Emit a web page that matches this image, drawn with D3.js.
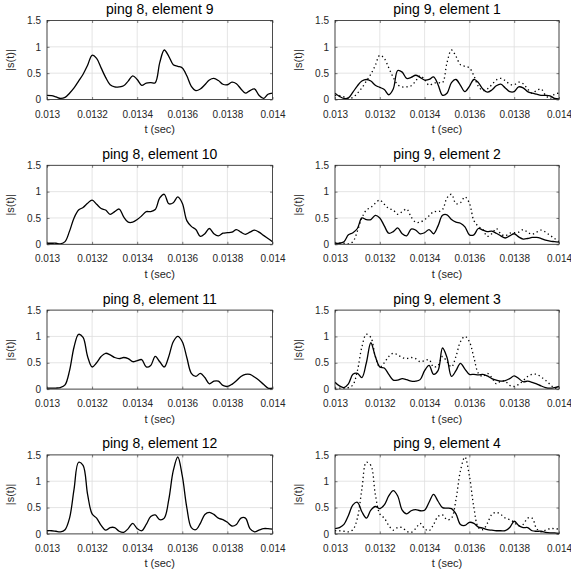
<!DOCTYPE html>
<html>
<head>
<meta charset="utf-8">
<script src="https://cdn.jsdelivr.net/npm/d3@7"></script>
<style>
  html, body { margin: 0; padding: 0; background: #fff; }
  svg { display: block; font-family: "Liberation Sans", Arial, Helvetica, sans-serif; }
</style>
</head>
<body>
<div id="chart"></div>
<script>
// sample times (s)
const tSec = [
  0.01300, 0.01302, 0.01304, 0.01306, 0.01308, 0.01310, 0.01312, 0.01314, 0.01316, 0.01318,
  0.01320, 0.01322, 0.01324, 0.01326, 0.01328, 0.01330, 0.01332, 0.01334, 0.01336, 0.01338,
  0.01340, 0.01342, 0.01344, 0.01346, 0.01348, 0.01350, 0.01352, 0.01354, 0.01356, 0.01358,
  0.01360, 0.01362, 0.01364, 0.01366, 0.01368, 0.01370, 0.01372, 0.01374, 0.01376, 0.01378,
  0.01380, 0.01382, 0.01384, 0.01386, 0.01388, 0.01390, 0.01392, 0.01394, 0.01396, 0.01398,
  0.01400
];

const xTicks = [0.013, 0.0132, 0.0134, 0.0136, 0.0138, 0.014];
const xTickLabels = ["0.013", "0.0132", "0.0134", "0.0136", "0.0138", "0.014"];
const yTicks = [0, 0.5, 1, 1.5];
const yTickLabels = ["0", "0.5", "1", "1.5"];

const ping8Titles = ["ping 8, element 9", "ping 8, element 10", "ping 8, element 11", "ping 8, element 12"];
const ping9Titles = ["ping 9, element 1", "ping 9, element 2", "ping 9, element 3", "ping 9, element 4"];

// |s(t)|
const ping8Element9 = [
  0.08, 0.075, 0.05, 0.02, 0.04, 0.12, 0.22, 0.35, 0.48, 0.65,
  0.84, 0.78, 0.60, 0.42, 0.28, 0.24, 0.24, 0.26, 0.35, 0.45,
  0.38, 0.27, 0.31, 0.32, 0.32, 0.70, 0.94, 0.82, 0.66, 0.63,
  0.60, 0.45, 0.25, 0.17, 0.20, 0.28, 0.37, 0.40, 0.36, 0.29,
  0.28, 0.33, 0.30, 0.20, 0.12, 0.17, 0.20, 0.08, 0.02, 0.10,
  0.12
];
const ping8Element10 = [
  0.02, 0.02, 0.02, 0.01, 0.05, 0.25, 0.50, 0.65, 0.70, 0.78,
  0.84, 0.76, 0.68, 0.65, 0.57, 0.62, 0.67, 0.52, 0.42, 0.42,
  0.47, 0.54, 0.62, 0.62, 0.66, 0.88, 0.95, 0.77, 0.79, 0.90,
  0.78, 0.45, 0.34, 0.28, 0.15, 0.20, 0.30, 0.20, 0.16, 0.21,
  0.22, 0.23, 0.28, 0.23, 0.19, 0.23, 0.27, 0.23, 0.17, 0.11,
  0.05
];
const ping8Element11 = [
  0.02, 0.02, 0.02, 0.03, 0.08, 0.35, 0.80, 1.04, 0.98, 0.62,
  0.42, 0.50, 0.62, 0.68, 0.65, 0.60, 0.58, 0.60, 0.58, 0.52,
  0.54, 0.56, 0.42, 0.45, 0.62, 0.52, 0.42, 0.62, 0.90, 1.00,
  0.90, 0.60, 0.30, 0.24, 0.30, 0.22, 0.10, 0.15, 0.15, 0.07,
  0.05, 0.09, 0.16, 0.24, 0.28, 0.28, 0.23, 0.17, 0.09, 0.02,
  0.02
];
const ping8Element12 = [
  0.06, 0.06, 0.05, 0.04, 0.08, 0.30, 0.85, 1.36, 1.30, 0.75,
  0.38, 0.30, 0.16, 0.07, 0.12, 0.12, 0.05, 0.03, 0.10, 0.20,
  0.10, 0.06, 0.18, 0.33, 0.36, 0.27, 0.30, 0.65, 1.20, 1.46,
  1.10, 0.50, 0.12, 0.08, 0.20, 0.37, 0.41, 0.37, 0.30, 0.27,
  0.22, 0.15, 0.18, 0.30, 0.30, 0.10, 0.04, 0.07, 0.10, 0.10,
  0.09
];

// |s(t)| (solid curves)
const ping9Element1 = [
  0.12, 0.06, 0.02, 0.03, 0.14, 0.26, 0.35, 0.38, 0.35, 0.27,
  0.23, 0.19, 0.09, 0.20, 0.55, 0.52, 0.40, 0.42, 0.46, 0.42,
  0.37, 0.38, 0.43, 0.28, 0.08, 0.12, 0.32, 0.38, 0.27, 0.15,
  0.25, 0.38, 0.32, 0.20, 0.14, 0.18, 0.26, 0.29, 0.22, 0.15,
  0.15, 0.24, 0.22, 0.15, 0.12, 0.10, 0.08, 0.08, 0.07, 0.02,
  0.01
];
const ping9Element2 = [
  0.02, 0.02, 0.05, 0.18, 0.22, 0.30, 0.50, 0.47, 0.47, 0.55,
  0.50, 0.35, 0.21, 0.24, 0.31, 0.20, 0.16, 0.29, 0.27, 0.20,
  0.22, 0.28, 0.20, 0.35, 0.55, 0.56, 0.47, 0.42, 0.40, 0.33,
  0.18, 0.18, 0.30, 0.27, 0.24, 0.25, 0.21, 0.16, 0.12, 0.16,
  0.20, 0.14, 0.10, 0.11, 0.13, 0.13, 0.11, 0.08, 0.06, 0.05,
  0.04
];
const ping9Element3 = [
  0.13, 0.06, 0.03, 0.10, 0.28, 0.30, 0.22, 0.50, 0.88, 0.62,
  0.42, 0.40, 0.28, 0.17, 0.17, 0.20, 0.18, 0.15, 0.15, 0.18,
  0.35, 0.45, 0.28, 0.35, 0.78, 0.60, 0.24, 0.35, 0.49, 0.38,
  0.28, 0.28, 0.27, 0.28, 0.25, 0.20, 0.17, 0.15, 0.16, 0.20,
  0.25, 0.20, 0.14, 0.15, 0.13, 0.10, 0.06, 0.03, 0.02, 0.03,
  0.05
];
const ping9Element4 = [
  0.10, 0.12, 0.18, 0.35, 0.55, 0.60, 0.42, 0.30, 0.45, 0.52,
  0.48, 0.55, 0.72, 0.82, 0.72, 0.45, 0.38, 0.44, 0.46, 0.44,
  0.45, 0.60, 0.75, 0.62, 0.50, 0.49, 0.48, 0.38, 0.18, 0.16,
  0.22, 0.20, 0.13, 0.11, 0.08, 0.07, 0.06, 0.06, 0.06, 0.12,
  0.24, 0.16, 0.12, 0.12, 0.06, 0.05, 0.05, 0.03, 0.02, 0.02,
  0.01
];

const ping8Series = [ping8Element9, ping8Element10, ping8Element11, ping8Element12];
const ping9Series = [ping9Element1, ping9Element2, ping9Element3, ping9Element4];

const width = 571;
const height = 576;
const columns = [
  { left: 47, right: 272.5 },
  { left: 335, right: 559 },
];
const rowTop = (r) => 20.5 + 144.8 * r;
const plotH = 79;
const ink = "#262626";

const svg = d3
  .select("#chart")
  .append("svg")
  .attr("width", width)
  .attr("height", height)
  .attr("viewBox", `0 0 ${width} ${height}`);

svg.append("rect").attr("width", width).attr("height", height).attr("fill", "#fff");

function drawPanel(box, title, solid, dotted, id) {
  const x = d3.scaleLinear().domain([0.013, 0.014]).range([box.left, box.right]);
  const y = d3.scaleLinear().domain([0, 1.5]).range([box.bottom, box.top]);
  const g = svg.append("g").attr("class", "panel");

  // grid
  g.append("g")
    .selectAll("line")
    .data(xTicks)
    .join("line")
    .attr("x1", (d) => x(d))
    .attr("x2", (d) => x(d))
    .attr("y1", box.top)
    .attr("y2", box.bottom)
    .attr("stroke", "#dedede")
    .attr("stroke-width", 0.8);
  g.append("g")
    .selectAll("line")
    .data(yTicks)
    .join("line")
    .attr("x1", box.left)
    .attr("x2", box.right)
    .attr("y1", (d) => y(d))
    .attr("y2", (d) => y(d))
    .attr("stroke", "#dedede")
    .attr("stroke-width", 0.8);

  // curves, clipped to the axes box
  g.append("clipPath")
    .attr("id", id)
    .append("rect")
    .attr("x", box.left)
    .attr("y", box.top)
    .attr("width", box.right - box.left)
    .attr("height", box.bottom - box.top);

  const line = d3
    .line()
    .x((d, i) => x(tSec[i]))
    .y((d) => y(d))
    .curve(d3.curveCatmullRom.alpha(0.5));

  const curves = g.append("g").attr("clip-path", `url(#${id})`);
  if (dotted) {
    curves
      .append("path")
      .attr("d", line(dotted))
      .attr("fill", "none")
      .attr("stroke", "#000")
      .attr("stroke-width", 1.3)
      .attr("stroke-dasharray", "1.3 2.9");
  }
  curves
    .append("path")
    .attr("d", line(solid))
    .attr("fill", "none")
    .attr("stroke", "#000")
    .attr("stroke-width", 1.3)
    .attr("stroke-linejoin", "round");

  // axes
  const styleAxis = (sel) => {
    sel.select(".domain").remove();
    sel.selectAll(".tick line").attr("stroke", ink).attr("stroke-width", 0.6);
    sel.selectAll("text").attr("fill", ink);
    sel.attr("font-family", null).attr("font-size", 10);
  };

  g.append("g")
    .attr("transform", `translate(0,${box.bottom})`)
    .call(
      d3.axisBottom(x).tickValues(xTicks).tickFormat((d, i) => xTickLabels[i])
        .tickSizeInner(-2.5).tickSizeOuter(0).tickPadding(11)
    )
    .call(styleAxis);
  g.append("g")
    .attr("transform", `translate(${box.left},0)`)
    .call(
      d3.axisLeft(y).tickValues(yTicks).tickFormat((d, i) => yTickLabels[i])
        .tickSizeInner(-2.5).tickSizeOuter(0).tickPadding(6)
    )
    .call(styleAxis);
  g.append("g")
    .attr("transform", `translate(0,${box.top})`)
    .call(d3.axisTop(x).tickValues(xTicks).tickFormat("").tickSizeInner(-2.5).tickSizeOuter(0))
    .call(styleAxis);
  g.append("g")
    .attr("transform", `translate(${box.right},0)`)
    .call(d3.axisRight(y).tickValues(yTicks).tickFormat("").tickSizeInner(-2.5).tickSizeOuter(0))
    .call(styleAxis);

  g.append("rect")
    .attr("x", box.left)
    .attr("y", box.top)
    .attr("width", box.right - box.left)
    .attr("height", box.bottom - box.top)
    .attr("fill", "none")
    .attr("stroke", ink)
    .attr("stroke-width", 0.8);

  // labels
  g.append("text")
    .attr("x", (box.left + box.right) / 2)
    .attr("y", box.top - 6.5)
    .attr("text-anchor", "middle")
    .attr("font-size", 14)
    .attr("fill", "#000")
    .text(title);

  g.append("text")
    .attr("x", (box.left + box.right) / 2)
    .attr("y", box.bottom + 33.5)
    .attr("text-anchor", "middle")
    .attr("font-size", 11)
    .attr("fill", ink)
    .text("t (sec)");

  g.append("text")
    .attr("transform", `translate(${box.left - 33},${(box.top + box.bottom) / 2}) rotate(-90)`)
    .attr("text-anchor", "middle")
    .attr("font-size", 11)
    .attr("fill", ink)
    .text("|s(t)|");
}

for (let r = 0; r < 4; r++) {
  const top = rowTop(r);
  drawPanel(
    { left: columns[0].left, right: columns[0].right, top, bottom: top + plotH },
    ping8Titles[r], ping8Series[r], null, `clip-l${r}`
  );
  drawPanel(
    { left: columns[1].left, right: columns[1].right, top, bottom: top + plotH },
    ping9Titles[r], ping9Series[r], ping8Series[r], `clip-r${r}`
  );
}
</script>
</body>
</html>
